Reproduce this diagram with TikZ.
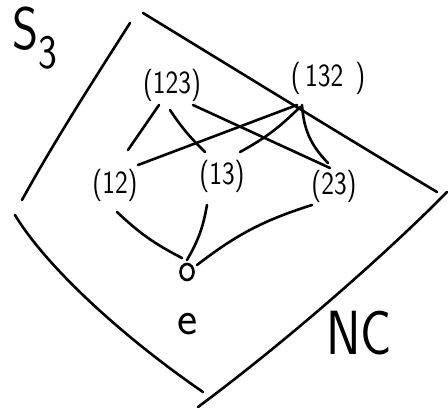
\documentclass[tikz,border=0pt]{standalone}
\usetikzlibrary{shapes.geometric}
\newcommand{\tallbox}[1]{\scalebox{1}[1.2]{#1}}
\begin{document}
\begin{tikzpicture}[x=1pt,y=-1pt,
  ink/.style={line width=2.6pt,line cap=round,line join=round},
  perm/.style={inner sep=0pt,font=\sffamily\fontsize{27}{27}\selectfont},
  lbl/.style={inner sep=0pt,font=\sffamily}]
\useasboundingbox (0,0) rectangle (448,410);
% labels
\node[lbl] (S3) at (35,38) {\tallbox{\fontsize{50}{50}\selectfont S\raisebox{-16pt}{\fontsize{40}{40}\selectfont 3}}};
\node[lbl] (NC) at (359,333) {\tallbox{\fontsize{52}{52}\selectfont NC}};
\node[lbl] (elbl) at (188,324) {\fontsize{48}{48}\selectfont e};
% permutation nodes
\node[perm] (n123) at (172,85) {\tallbox{(123)}};
\node[perm] (n132) at (328,78) {\tallbox{(\,132\;\,)}};
\node[perm] (n12)  at (115,185) {\tallbox{(12)}};
\node[perm] (n13)  at (222,176) {\tallbox{(13)}};
\node[perm] (n23)  at (334,186) {\tallbox{(23)}};
\node[ink,draw,ellipse,minimum width=13pt,minimum height=16pt,inner sep=0pt] (ne) at (187,272) {};
% region boundaries
\draw[ink] (130,23) .. controls (95,78) and (55,140) .. (22,200);
\draw[ink] (15,215) .. controls (45,265) and (120,335) .. (203,392);
\draw[ink] (143,13) .. controls (220,60) and (350,140) .. (437,192);
\draw[ink] (447,192) .. controls (395,245) and (295,335) .. (198,407);
% edges
\draw[ink] ([shift={(-13,20)}]n123.center) -- ([shift={(13,-35)}]n12.center);
\draw[ink] ([shift={(-2,25)}]n123.center) to[bend right=6] ([shift={(-17,-24)}]n13.center);
\draw[ink] ([shift={(21,20)}]n123.center) -- ([shift={(-4,-18)}]n23.center);
\draw[ink] ([shift={(-31,27)}]n132.center) -- ([shift={(23,-20)}]n12.center);
\draw[ink] ([shift={(-28,29)}]n132.center) to[bend left=8] ([shift={(18,-24)}]n13.center);
\draw[ink] ([shift={(-26,27)}]n132.center) to[bend right=20] ([shift={(-6,-23)}]n23.center);
\draw[ink] ([shift={(2,27)}]n12.center) to[bend right=8] ([shift={(-5,-14)}]ne.center);
\draw[ink] ([shift={(-15,29)}]n13.center) to[bend left=10] ([shift={(0,-12)}]ne.center);
\draw[ink] ([shift={(-22,19)}]n23.center) to[bend right=10] ([shift={(10,-7)}]ne.center);
\end{tikzpicture}
\end{document}
